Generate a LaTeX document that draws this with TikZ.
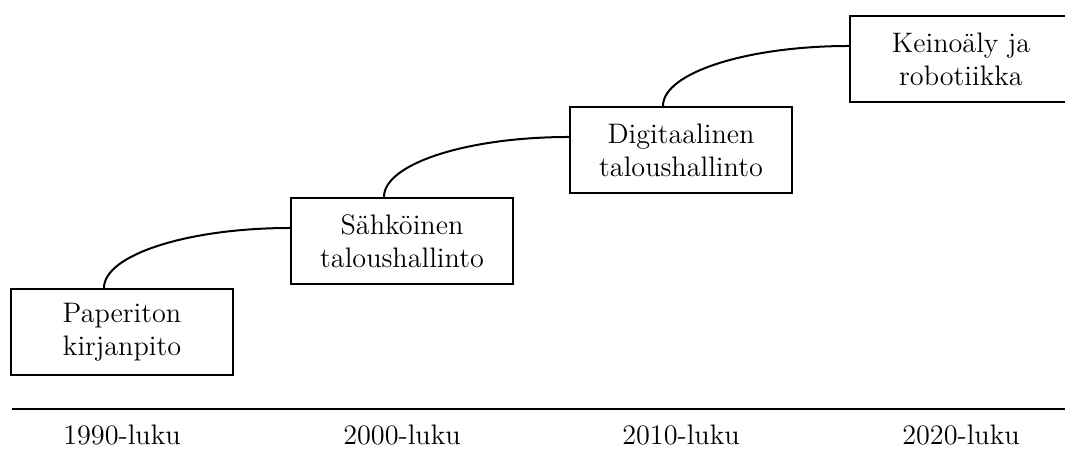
\documentclass[tikz,border=0pt]{standalone}
\usepackage{tikz}
\usetikzlibrary{positioning, calc}

\begin{document}
\begin{tikzpicture}[
    x=0.5pt, y=0.5pt,
    block/.style={rectangle, draw, line width=1.1pt, text width=104pt, align=center, minimum width=111pt, minimum height=43pt, font=\fontsize{14.1}{16.5}\selectfont},
    link/.style={draw, line width=1pt, out=90, in=180, out distance=16.5pt, in distance=51pt},
    year/.style={anchor=base, font=\fontsize{14.1}{16.5}\selectfont}
]
\useasboundingbox (0,0) rectangle (1065,453);
\clip (0,0) rectangle (1065,453);

% Nodes
\node [block] (paper) at (122,121) {Paperiton\\kirjanpito};
\node [block] (sahko) at (402,212) {Sähköinen\\taloushallinto};
\node [block] (digi) at (681,303) {Digitaalinen\\taloushallinto};
\node [block] (ai) at (961,394) {Keinoäly ja\\robotiikka};

% Lines
\path [link] ([xshift=-9pt]paper.north) to ([yshift=6.5pt]sahko.west);
\path [link] ([xshift=-9pt]sahko.north) to ([yshift=6.5pt]digi.west);
\path [link] ([xshift=-9pt]digi.north) to ([yshift=6.5pt]ai.west);

% Axis
\coordinate (axisL) at (12,44);
\coordinate (axisR) at (1065,44);
\path [draw, line width=1.2pt] (axisL) -- (axisR);

% Labels
\coordinate (base) at (0,8);
\node [year] (y1990) at (paper |- base) {1990-luku};
\node [year] (y2000) at (sahko |- base) {2000-luku};
\node [year] (y2010) at (digi |- base) {2010-luku};
\node [year] (y2020) at (ai |- base) {2020-luku};

\end{tikzpicture}
\end{document}
